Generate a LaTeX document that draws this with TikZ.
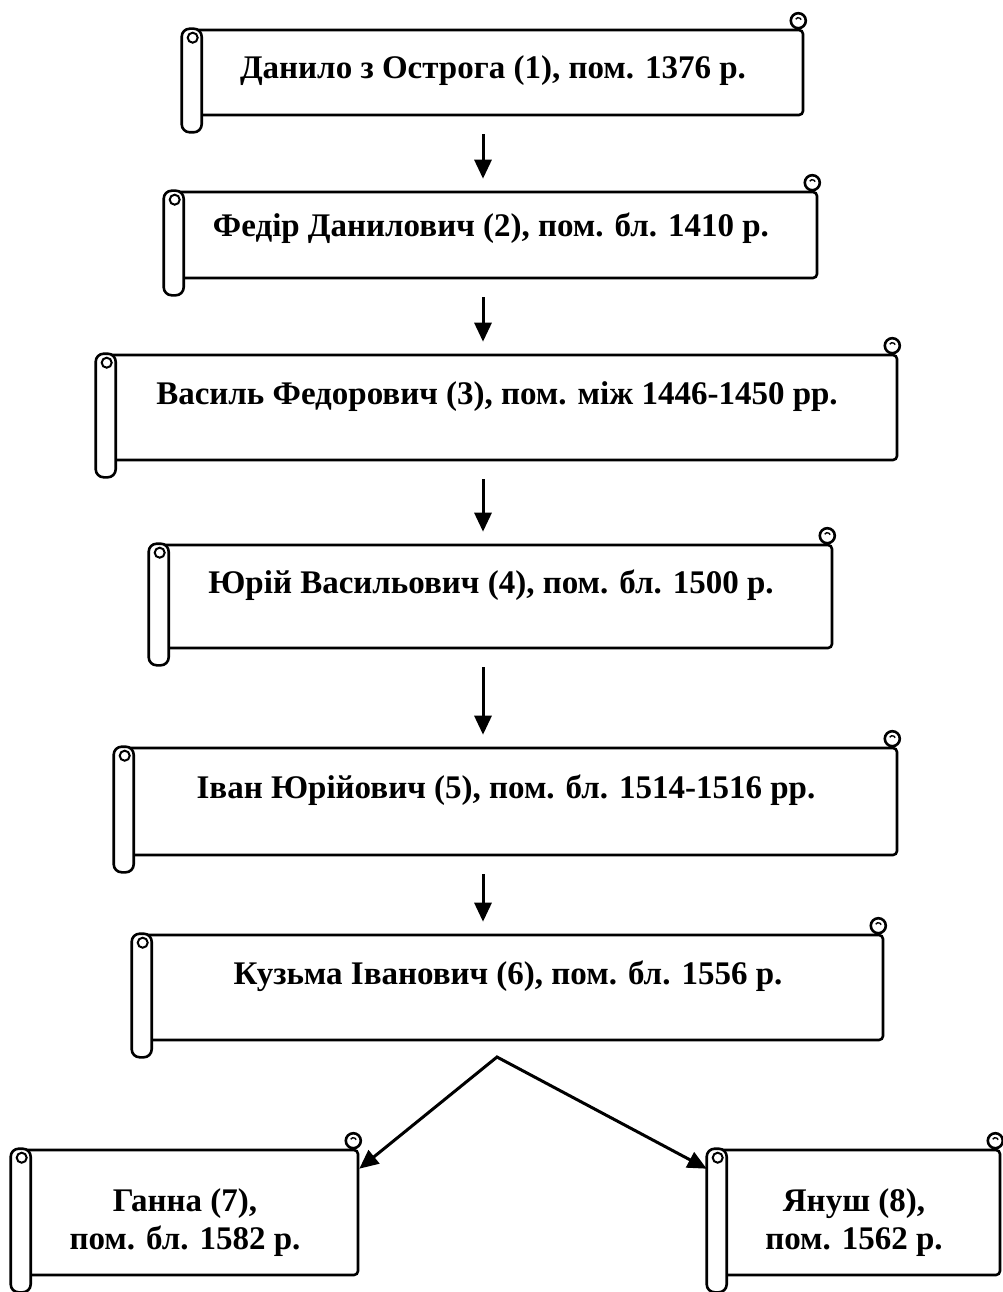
\documentclass[tikz,border=0pt]{standalone}
\usepackage{fontspec}
\setmainfont{Liberation Serif}
\usetikzlibrary{arrows.meta}
\tikzset{
  scroll/.style={draw, line width=2.6pt, rounded corners=4pt, inner sep=0pt, align=center,
    font=\bfseries\fontsize{33}{38}\selectfont},
  oneline/.style={text depth=29pt},
  arr/.style={line width=3pt, -{Triangle[length=19pt,width=17pt]}},
  down/.style={arr, shorten <=18pt, shorten >=12pt},
}
\newcommand{\scrollends}[1]{%
  \draw[line width=2.6pt, fill=white, rounded corners=8pt] (#1.north west) rectangle ([xshift=20pt,yshift=-16pt]#1.south west);
  \draw[line width=2pt] ([xshift=11pt,yshift=-9pt]#1.north west) circle (5pt);
  \draw[line width=2.6pt, fill=white] ([xshift=-6pt,yshift=8pt]#1.north east) circle (7.5pt);
  \draw[line width=1.4pt] ([xshift=-6pt,yshift=8pt]#1.north east) +(150:3pt) arc (150:20:3pt);
}
\newcommand{\topgap}{\rule{0pt}{43pt}}
\begin{document}
\begin{tikzpicture}[x=1pt,y=-1pt]
\useasboundingbox (0,0) rectangle (1003,1292);
\node[scroll, text depth=10pt, minimum width=620pt, minimum height=85pt] (dan) at (493,72.5) {Данило з Острога (1), пом. 1376 р.};
\node[scroll, text depth=21pt, minimum width=652pt, minimum height=86pt] (fed) at (491,235) {Федір Данилович (2), пом. бл. 1410 р.};
\node[scroll, oneline, minimum width=800pt, minimum height=105pt] (vas) at (497,407.5) {Василь Федорович (3), пом. між 1446-1450 рр.};
\node[scroll, oneline, minimum width=682pt, minimum height=103pt] (yur) at (491,596.5) {Юрій Васильович (4), пом. бл. 1500 р.};
\node[scroll, oneline, minimum width=782pt, minimum height=107pt] (ivan) at (506,801.5) {Іван Юрійович (5), пом. бл. 1514-1516 рр.};
\node[scroll, oneline, minimum width=750pt, minimum height=105pt] (kuz) at (508,987.5) {Кузьма Іванович (6), пом. бл. 1556 р.};
\node[scroll, minimum width=346pt, minimum height=125pt] (hanna) at (185,1212.5) {\topgap Ганна (7),\\пом. бл. 1582 р.};
\node[scroll, minimum width=292pt, minimum height=125pt] (yanush) at (854,1212.5) {\topgap Януш (8),\\пом. 1562 р.};
\foreach \n in {dan,fed,vas,yur,ivan,kuz,hanna,yanush} {\scrollends{\n}}
\coordinate (axis) at (483,0);
\draw[down] (dan.south -| axis) -- (fed.north -| axis);
\draw[down] (fed.south -| axis) -- (vas.north -| axis);
\draw[down] (vas.south -| axis) -- (yur.north -| axis);
\draw[down] (yur.south -| axis) -- (ivan.north -| axis);
\draw[down] (ivan.south -| axis) -- (kuz.north -| axis);
\coordinate (fork) at (497,1057);
\draw[arr, {Triangle[length=19pt,width=17pt]}-{Triangle[length=19pt,width=17pt]}] ([yshift=-20pt]hanna.north east) -- (fork) -- ([yshift=-20pt]yanush.north west);
\end{tikzpicture}
\end{document}
